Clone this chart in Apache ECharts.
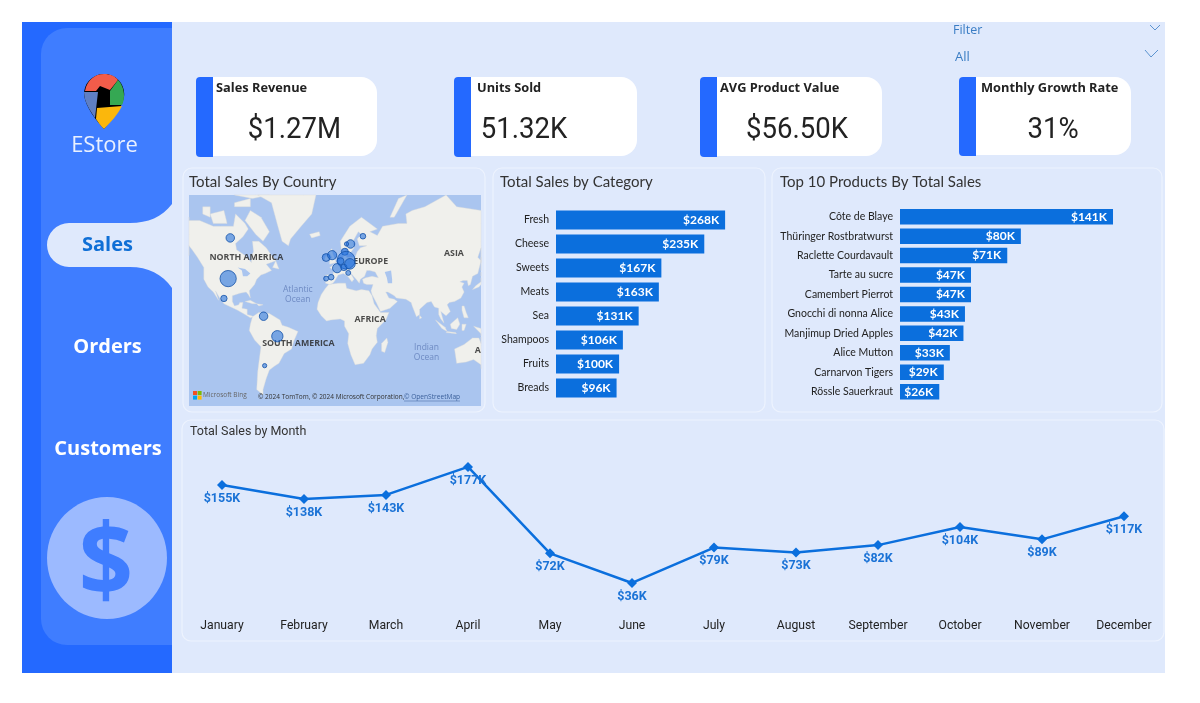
<!DOCTYPE html>
<html><head><meta charset="utf-8"><style>html,body{margin:0;padding:0;background:#fff}#c{width:1200px;height:703px}</style>
<script src="https://cdn.jsdelivr.net/npm/echarts@6/dist/echarts.min.js"></script></head>
<body><div id="c"></div><script>
const kpiTitles=['Sales Revenue','Units Sold','AVG Product Value','Monthly Growth Rate'];
const kpiValues=['$1.27M','51.32K','$56.50K','31%'];
const navItems=['Sales','Orders','Customers'];
const categories=['Fresh','Cheese','Sweets','Meats','Sea','Shampoos','Fruits','Breads'];
const categorySales=[268,235,167,163,131,106,100,96];
const products=['Côte de Blaye','Thüringer Rostbratwurst','Raclette Courdavault','Tarte au sucre','Camembert Pierrot','Gnocchi di nonna Alice','Manjimup Dried Apples','Alice Mutton','Carnarvon Tigers','Rössle Sauerkraut'];
const productSales=[141,80,71,47,47,43,42,33,29,26];
const months=['January','February','March','April','May','June','July','August','September','October','November','December'];
const monthSales=[155,138,143,177,72,36,79,73,82,104,89,117];
const countries=['Canada','USA','Mexico','Venezuela','Brazil','Argentina','Ireland','UK','Finland','Sweden','Denmark','Norway','Germany','Belgium','France','Switzerland','Austria','Italy','Spain','Portugal'];
const countryLon=[-99,-101,-105,-67.5,-54.5,-66.5,-8.4,-2.7,26.4,14.7,10.9,9.3,10.6,5.2,2,8.4,14.1,12.5,-3.6,-8.4];
const countryLat=[63.5,40.4,24.6,8.5,-10.4,-35.8,53.9,55.2,64.2,60.8,60.8,57,52.4,51.8,47.5,48,50.2,44.4,41.4,40.4];
const countrySales=[64,235,36,64,114,16,54,75,28,64,16,44,280,44,75,36,100,22,28,22];
const mapNames=['NORTH AMERICA','EUROPE','ASIA','AFRICA','SOUTH AMERICA','A'];
const mapNameLon=[-83.8,33.7,112.4,33.2,-34.6,134.9];
const mapNameLat=[54.1,51.8,55.9,5.7,-16.8,-23];
const oceanNames=['Atlantic\nOcean','Indian\nOcean'];
const oceanLon=[-35.2,86.5];
const oceanLat=[27.9,-25.1];
const extent={w:-138,e:138,s:-60.6,n:76.8};
const land=[
[[-168,65],[-162,70],[-156,71],[-141,70],[-128,70],[-115,68],[-108,68],[-96,68],[-94,72],[-85,69],[-82,67],[-87,64],[-94,61],[-93,58],[-85,55],[-82,53],[-79,51],[-79,55],[-77,57],[-78,62],[-72,62],[-65,59],[-60,55],[-56,52],[-65,50],[-60,46],[-66,44],[-70,43],[-74,40],[-76,36],[-81,31],[-80,25],[-82,28],[-84,30],[-90,29],[-97,27],[-97,22],[-95,18],[-91,19],[-90,21],[-87,21],[-88,16],[-83,15],[-83,10],[-79,9],[-77,8],[-80,7],[-85,10],[-92,14],[-96,16],[-105,20],[-109,25],[-113,31],[-110,23],[-115,30],[-120,34],[-124,40],[-124,48],[-130,54],[-135,58],[-145,60],[-152,59],[-160,55],[-165,60]],
[[-80,73],[-70,71],[-62,66],[-68,62],[-75,65],[-85,70]],[[-118,72],[-105,73],[-102,69],[-115,69]],[[-95,77],[-75,83],[-62,82],[-78,76]],[[-125,74],[-118,74],[-118,71],[-125,72]],[[-95,75],[-80,76],[-80,74],[-95,74]],[[-59,48],[-56,52],[-53,47]],[[-85,22],[-80,23],[-74,20],[-78,20]],[[-74,20],[-68,19],[-72,18]],
[[-73,78],[-60,82],[-30,84],[-18,80],[-22,72],[-32,68],[-42,63],[-44,60],[-50,62],[-54,68],[-60,75]],[[-24,65],[-15,66],[-14,64.5],[-22,63.5]],
[[-78,8],[-72,12],[-62,11],[-52,5],[-50,0],[-44,-2],[-35,-6],[-39,-15],[-41,-22],[-48,-26],[-53,-34],[-57,-36],[-62,-39],[-65,-45],[-68,-52],[-68,-55],[-74,-52],[-73,-40],[-70,-20],[-76,-14],[-81,-5],[-80,1]],
[[-17,15],[-16,21],[-13,28],[-9,33],[-6,36],[3,37],[10,37],[11,33],[20,31],[25,32],[32,31],[35,27],[37,20],[43,12],[51,12],[48,5],[40,-3],[39,-10],[40,-16],[35,-22],[33,-27],[27,-34],[19,-35],[15,-27],[12,-17],[13,-8],[9,-1],[9,4],[5,6],[-4,5],[-8,4],[-13,9]],
[[49,-12],[50,-16],[47,-25],[44,-24],[44,-17]],
[[-9,37],[-9,43],[-2,43],[-1,46],[-5,48],[2,51],[8,54],[8,57],[10,57],[11,54],[19,54],[21,57],[24,59],[30,60],[23,60],[21,63],[25,65],[22,66],[17,62],[18,59],[14,56],[12,56],[11,59],[6,58],[5,62],[14,68],[25,71],[40,67],[33,66],[40,64.5],[45,68],[60,69],[68,69],[67,72],[73,73],[85,74],[105,78],[115,74],[140,73],[180,69],[178,62],[163,60],[163,56],[156,51],[156,58],[142,59],[135,54],[141,52],[135,44],[130,42],[128,36],[126,35],[125,39],[121,39],[118,38],[122,37],[120,34],[122,30],[119,25],[113,22],[108,21],[106,19],[109,13],[105,9],[100,13],[103,2],[100,6],[98,10],[98,16],[94,17],[91,22],[87,21],[80,15],[80,10],[77,8],[73,18],[72,21],[67,24],[58,25],[56,27],[50,30],[48,30],[51,25],[56,24],[59,22],[52,16],[43,13],[39,21],[35,28],[34,31],[36,36],[30,36],[27,37],[26,40],[29,41],[35,42],[41,41],[38,45],[33,46],[30,46],[28,42],[24,40],[23,37],[20,40],[14,45],[18,40],[16,38],[12,42],[8,44],[3,43],[0,39],[-2,37],[-5,36]],
[[-5,50],[1,51],[0,53],[-2,56],[-3,58.5],[-6,57],[-3,54],[-5,52]],[[-10,52],[-6,52],[-6,55],[-9,54.5]],
[[130,32],[136,34],[141,36],[141,41],[139,38],[133,35]],[[140,42],[145,43],[142,45]],[[142,46],[143,54],[142,54]],[[120,18],[122,18],[124,12],[126,7],[122,7],[120,14]],[[109,1],[116,7],[118,1],[115,-4],[110,-3]],[[95,5],[104,-2],[106,-6],[101,-3]],[[105,-7],[115,-8],[114,-7],[106,-6]],[[120,1],[124,1],[122,-5],[120,-5]],[[131,-1],[141,-3],[148,-10],[138,-8]],[[113,-22],[122,-18],[130,-12],[136,-12],[140,-17],[142,-11],[146,-19],[153,-26],[150,-37],[144,-38],[138,-35],[131,-31],[124,-33],[115,-34]],[[80,9.5],[82,7],[80,6]],[[52,71],[56,71],[68,77],[60,76]]
];
const water=[[[47,45],[53,46],[54,40],[54,37],[50,37],[49,41]],[[-92,48],[-85,47],[-80,44],[-83,42],[-87,42],[-88,46]]];

const clamp=p=>[Math.min(extent.e,Math.max(extent.w,p[0])),Math.min(extent.n,Math.max(extent.s,p[1]))];
const feat=(name,ring)=>({type:'Feature',properties:{name},geometry:{type:'Polygon',coordinates:[ring.map(clamp).concat([clamp(ring[0])])]}});
const features=[feat('ocean',[[extent.w,extent.s],[extent.e,extent.s],[extent.e,extent.n],[extent.w,extent.n]])]
 .concat(land.map((r,i)=>feat('land'+i,r))).concat(water.map((r,i)=>feat('water'+i,r)));
echarts.registerMap('world',{type:'FeatureCollection',features});
const R=Math.PI/180;
const mercator={project:p=>[p[0]*R,-Math.log(Math.tan(Math.PI/4+p[1]*R/2))],unproject:p=>[p[0]/R,(2*Math.atan(Math.exp(-p[1]))-Math.PI/2)/R]};

const BG='#dfe9fc',SIDE='#2469ff',INNER='#3f7dff',BLUE='#0b6fdd',OCEAN='#aac5ef',LANDC='#f0f0ec';
const F='"Open Sans"';
const T=(x,y,text,font,fill,align='left',z=30,extra={})=>Object.assign({type:'text',x,y,z,silent:true,style:{text,font,fill,align,verticalAlign:'middle',textAlign:align,textVerticalAlign:'middle'}},extra);
const rect=(x,y,w,h,fill,r=0,z=1,extra={})=>({type:'rect',z,silent:true,shape:{x,y,width:w,height:h,r},style:Object.assign({fill},extra)});
let pathCount=0;
const path=(d,fill,z=6,extra={})=>{const name='dashPath'+(pathCount++);echarts.graphic.registerShape(name,echarts.graphic.extendPath(d,{}));return {type:name,z,silent:true,style:Object.assign({fill},extra)};};
const panel=(x,y,w,h)=>rect(x,y,w,h,BG,9,2,{stroke:'#edf3fe',lineWidth:1.2});
const cardX=[196,454,700,959],cardW=[181,183,182,172],valX=[294.5,524,797,1053],cardTx=[216,477,720,981];
const g=[
 rect(22,22,1143,651,BG,0,0),
 rect(22,22,150,651,SIDE,0,1),
 rect(41,28,131,617,INNER,[26,0,0,26],2),
 path('M172 204 C162 217 148 223 130 223 L69 223 A22 22 0 0 0 69 267 L130 267 C148 267 162 274 172 288 Z',BG,3),
 {type:'ellipse',z:3,silent:true,shape:{cx:107,cy:558,rx:60,ry:61},style:{fill:'#9cbaff'}},
 T(106,568,'$','bold 100px '+F,INNER,'center',4,{scaleX:0.95}),
 path('M104 74 A20 20 0 0 1 124 97 C122 108 112 120 104 129 C96 120 86 108 84 95 A20 20 0 0 1 104 74Z','#000',5),
 path('M85 91 C87 80 95 74 104 74 C110 74 115 76 118 80 L110 90 L100 86 L96 91 Z','#f25c4a',6),
 path('M118 80 C122 84 124 90 124 96 C124 100 123 103 122 105 L110 105 L110 91 Z','#35a853',6),
 path('M84 92 L98 92 L95 118 C90 110 84 102 84 92 Z','#5f7fc4',6),
 path('M97 108 L122 106 C118 114 111 122 104 129 C100 125 98 122 96 119 Z','#fbb70c',6),
 T(104.5,145.5,'EStore','22px '+F,'#e9f0ff','center',6),
 T(107.5,245.5,navItems[0],'bold 20px '+F,'#0f6fd6','center'),
 T(107.5,347.5,navItems[1],'bold 20px '+F,'#fff','center'),
 T(108,449.5,navItems[2],'bold 20px '+F,'#fff','center'),
 T(953,30.5,'Filter','12.5px '+F,'#3a7dc4'),
 T(955,57,'All','13px '+F,'#3a7dc4'),
 {type:'polyline',z:6,silent:true,shape:{points:[[1150,25],[1155,30],[1160,25]]},style:{fill:'none',stroke:'#3a7dc4',lineWidth:.8}},
 {type:'polyline',z:6,silent:true,shape:{points:[[1145,50],[1151,57],[1158,50]]},style:{fill:'none',stroke:'#3a7dc4',lineWidth:.8}},
 panel(183,168,302,244),panel(493,168,272,244),panel(772,168,390,244),panel(182,420,982,221),
 rect(193,391,4,4,'#f25022',0,30),rect(197.6,391,4,4,'#7fba00',0,30),rect(193,395.6,4,4,'#00a4ef',0,30),rect(197.6,395.6,4,4,'#ffb900',0,30),
 T(203,395,'Microsoft Bing','6.5px '+F,'#666'),
 T(258,397,'© 2024 TomTom, © 2024 Microsoft Corporation, ','6.5px '+F,'#333'),
 T(404,397,'© OpenStreetMap','6.6px '+F,'#3a5f9a'),
 {type:'line',z:30,silent:true,shape:{x1:404,y1:401,x2:460,y2:401},style:{stroke:'#3a5f9a',lineWidth:.5}}
];
kpiTitles.forEach((t,i)=>{
 g.push(rect(cardX[i],77,cardW[i],i==3?78:79,'#fff',[4,16,16,4],3));
 g.push(rect(cardX[i],77,17,i==3?79:80,SIDE,[4,0,0,4],4));
 g.push(T(cardTx[i],88.5,t,'bold 12.8px '+F,'#222'));
 g.push(T(valX[i],131,kpiValues[i],'29px Roboto','#222','center',30,{scaleX:0.95}));
});
const titleText=(left,top,text)=>({text,left,top,padding:0,textStyle:{fontFamily:'Lato',fontWeight:'normal',fontSize:15,color:'#333'}});
const barLabel={show:true,position:'insideRight',distance:6,color:'#fff',fontFamily:'Lato',fontWeight:'bold',fontSize:12,formatter:p=>'$'+p.value+'K'};
const hiddenX=(gridIndex,max,min=0)=>({type:'value',gridIndex,min,max,show:false});
const catY=(gridIndex,data,fs)=>({type:'category',gridIndex,data,inverse:true,z:10,axisLine:{show:false},axisTick:{show:false},axisLabel:{color:'#222',fontFamily:'Lato',fontSize:fs,margin:7}});
const option={
 animation:false,backgroundColor:'#fff',graphic:g,
 title:[titleText(189,174.5,'Total Sales By Country'),titleText(500,174.5,'Total Sales by Category'),titleText(780,174.5,'Top 10 Products By Total Sales'),
   {text:'Total Sales by Month',left:190,top:425,padding:0,textStyle:{fontFamily:'Roboto',fontWeight:'normal',fontSize:12.5,color:'#333'}}],
 geo:{map:'world',projection:mercator,left:189,top:195,width:292,height:211,silent:true,roam:false,z:3,
   label:{show:false},emphasis:{disabled:true},select:{disabled:true},
   itemStyle:{areaColor:LANDC,borderColor:'#dcdcd8',borderWidth:.4},
   regions:[{name:'ocean',itemStyle:{areaColor:OCEAN,borderWidth:0}}].concat(water.map((r,i)=>({name:'water'+i,itemStyle:{areaColor:OCEAN,borderWidth:0}})))},
 grid:[{left:556,top:208,width:189.3,height:192},{left:900,top:207,width:226.6,height:194.4},{left:181,top:448,width:984,height:164.6}],
 xAxis:[hiddenX(0,300),hiddenX(1,150),
  {type:'category',gridIndex:2,data:months,z:10,boundaryGap:true,axisLine:{show:false},axisTick:{show:false},axisLabel:{color:'#222',fontFamily:'Roboto',fontSize:12.2,margin:7.5}}],
 yAxis:[catY(0,categories,10.5),catY(1,products,10.5),{type:'value',gridIndex:2,min:0,max:200,show:false}],
 series:[
  {type:'scatter',name:'Map names',coordinateSystem:'geo',geoIndex:0,z:3,silent:true,symbolSize:0,data:mapNames.map((n,i)=>({name:n,value:[mapNameLon[i],mapNameLat[i]]})),
   label:{show:true,position:'inside',formatter:'{b}',color:'#222',fontFamily:F,fontWeight:'bold',fontSize:8.8}},
  {type:'scatter',name:'Ocean names',coordinateSystem:'geo',geoIndex:0,z:3,silent:true,symbolSize:0,data:oceanNames.map((n,i)=>({name:n,value:[oceanLon[i],oceanLat[i]]})),
   label:{show:true,position:'inside',formatter:'{b}',color:'#5f7cb8',fontFamily:F,fontSize:8.5,lineHeight:10}},
  {type:'scatter',name:'Sales by country',coordinateSystem:'geo',geoIndex:0,z:4,data:countries.map((n,i)=>({name:n,value:[countryLon[i],countryLat[i],countrySales[i]]})),
   symbolSize:v=>Math.sqrt(v[2])*1.06,itemStyle:{color:'rgba(30,110,220,0.72)',borderColor:'#1553a8',borderWidth:1}},
  {type:'bar',name:'Category',xAxisIndex:0,yAxisIndex:0,data:categorySales,barWidth:19,itemStyle:{color:BLUE},label:barLabel},
  {type:'bar',name:'Product',xAxisIndex:1,yAxisIndex:1,data:productSales,barWidth:15.5,itemStyle:{color:BLUE},label:barLabel},
  {type:'line',name:'Month',xAxisIndex:2,yAxisIndex:2,data:monthSales,symbol:'diamond',symbolSize:10,showAllSymbol:true,lineStyle:{color:BLUE,width:2.5},itemStyle:{color:BLUE},
   label:{show:true,position:'bottom',distance:2,color:'#1a72d6',fontFamily:'Roboto',fontWeight:'bold',fontSize:12.5,formatter:p=>'$'+p.value+'K'},labelLayout:{hideOverlap:false}}
 ]
};
const chart=echarts.init(document.getElementById('c'),null,{renderer:'canvas',width:1200,height:703});
chart.setOption(option);
</script></body></html>
